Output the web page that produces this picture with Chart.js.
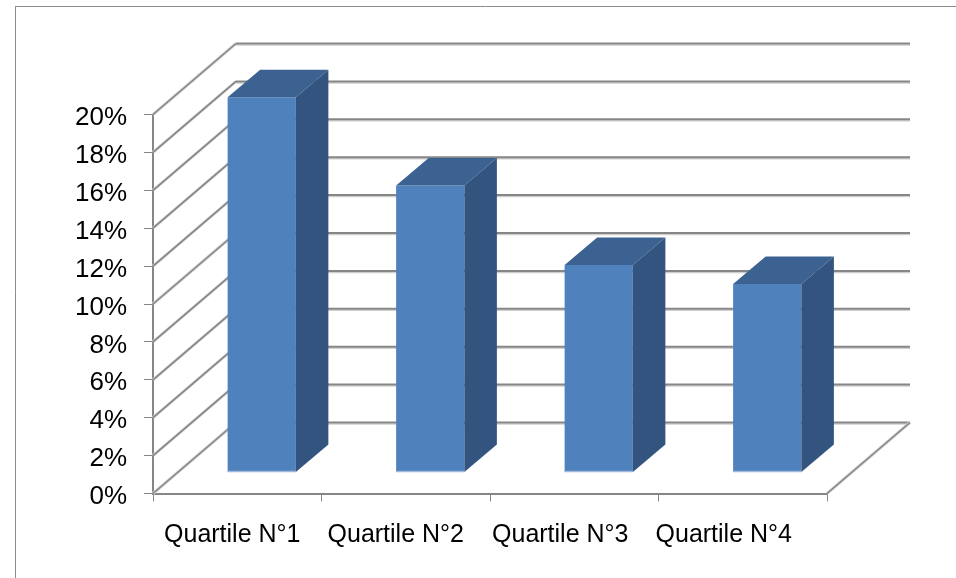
<!DOCTYPE html>
<html>
<head>
<meta charset="utf-8">
<title>Quartiles</title>
<script src="https://cdn.jsdelivr.net/npm/chart.js@4"></script>
<style>
  html, body { margin: 0; padding: 0; background: #fff; }
  canvas { display: block; }
</style>
</head>
<body>
<canvas id="quartileChart" width="956" height="578"></canvas>
<script>
const categories = ["Quartile N°1", "Quartile N°2", "Quartile N°3", "Quartile N°4"];
const shares = [19.8, 15.15, 10.95, 9.95];

const FONT = '"Liberation Sans", Arial, sans-serif';
const GREY = "#868686";
// depth of the floor, and where the bars stand on it
const wall = { x: 83, y: -71 };
const barShift = { x: 24.5, y: -21 };
const barDepth = { x: 32.5, y: -27.5 };
// x labels sit a bit left of their category in the original
const labelShift = [-5, -10, -14, -19];

function line(ctx, x1, y1, x2, y2, color, width) {
  ctx.strokeStyle = color;
  ctx.lineWidth = width;
  ctx.beginPath();
  ctx.moveTo(x1, y1);
  ctx.lineTo(x2, y2);
  ctx.stroke();
}

function poly(ctx, pts, color) {
  ctx.fillStyle = color;
  ctx.beginPath();
  pts.forEach((p, i) => (i ? ctx.lineTo(p[0], p[1]) : ctx.moveTo(p[0], p[1])));
  ctx.closePath();
  ctx.fill();
}

const box3d = {
  id: "box3d",
  beforeDraw(chart) {
    // outer frame, only top and left are in view
    const ctx = chart.ctx;
    line(ctx, 15.5, 578, 15.5, 6.5, "#8c8c8c", 1);
    line(ctx, 15, 6.5, 956, 6.5, "#8c8c8c", 1);
  },
  beforeDatasetsDraw(chart) {
    const ctx = chart.ctx;
    const { x, y } = chart.scales;
    const left = x.left;
    const right = x.right;
    y.ticks.forEach((t) => {
      const py = y.getPixelForValue(t.value);
      line(ctx, left, py, left + wall.x, py + wall.y, "#d4d4d4", 3);
      line(ctx, left, py, left + wall.x, py + wall.y, GREY, 1.6);
      line(ctx, left + wall.x, py + wall.y + 1.5, right + wall.x, py + wall.y + 1.5, "#cfcfcf", 1.5);
      line(ctx, left + wall.x, py + wall.y, right + wall.x, py + wall.y, GREY, 2);
    });
    const py = y.getPixelForValue(0);
    line(ctx, right, py, right + wall.x, py + wall.y, "#d4d4d4", 3);
    line(ctx, right, py, right + wall.x, py + wall.y, GREY, 1.6);
  },
  beforeDatasetDraw(chart) {
    chart.ctx.save();
    chart.ctx.translate(barShift.x, barShift.y);
  },
  afterDatasetDraw(chart, args) {
    const ctx = chart.ctx;
    args.meta.data.forEach((bar) => {
      const l = bar.x - bar.width / 2;
      const r = bar.x + bar.width / 2;
      const d = barDepth;
      poly(ctx, [[l, bar.y], [l + d.x, bar.y + d.y], [r + d.x, bar.y + d.y], [r, bar.y]], "#3c6292");
      poly(ctx, [[r, bar.y], [r + d.x, bar.y + d.y], [r + d.x, bar.base + d.y], [r, bar.base]], "#32547f");
      line(ctx, l, bar.base - 0.5, r, bar.base - 0.5, "#9db8dc", 1.5);
    });
    ctx.restore();
  },
  afterDraw(chart) {
    const ctx = chart.ctx;
    const x = chart.scales.x;
    ctx.font = "25px " + FONT;
    ctx.fillStyle = "#000";
    ctx.textAlign = "center";
    ctx.textBaseline = "middle";
    categories.forEach((c, i) => {
      ctx.fillText(c, x.getPixelForTick(i) + labelShift[i], 535);
    });
  },
};

new Chart(document.getElementById("quartileChart"), {
  type: "bar",
  data: {
    labels: categories,
    datasets: [
      {
        data: shares,
        backgroundColor: "#4f81bd",
        barPercentage: 0.405,
        categoryPercentage: 1,
      },
    ],
  },
  plugins: [box3d],
  options: {
    responsive: false,
    animation: false,
    layout: { padding: { top: 114.5, right: 129, bottom: 0, left: 0 } },
    plugins: { legend: { display: false }, tooltip: { enabled: false } },
    scales: {
      x: {
        afterFit: (s) => { s.height = 84.5; },
        border: { color: GREY, width: 2 },
        grid: { drawOnChartArea: false, tickColor: GREY, tickLength: 8, lineWidth: 1 },
        ticks: { display: false },
      },
      y: {
        min: 0,
        max: 20,
        afterFit: (s) => { s.width = 153; },
        border: { color: GREY, width: 2 },
        grid: { drawOnChartArea: false, tickColor: GREY, tickLength: 9, lineWidth: 1 },
        ticks: {
          stepSize: 2,
          padding: 17,
          labelOffset: 3.5,
          color: "#000",
          font: { family: FONT, size: 26 },
          callback: (v) => v + "%",
        },
      },
    },
  },
});
</script>
</body>
</html>
